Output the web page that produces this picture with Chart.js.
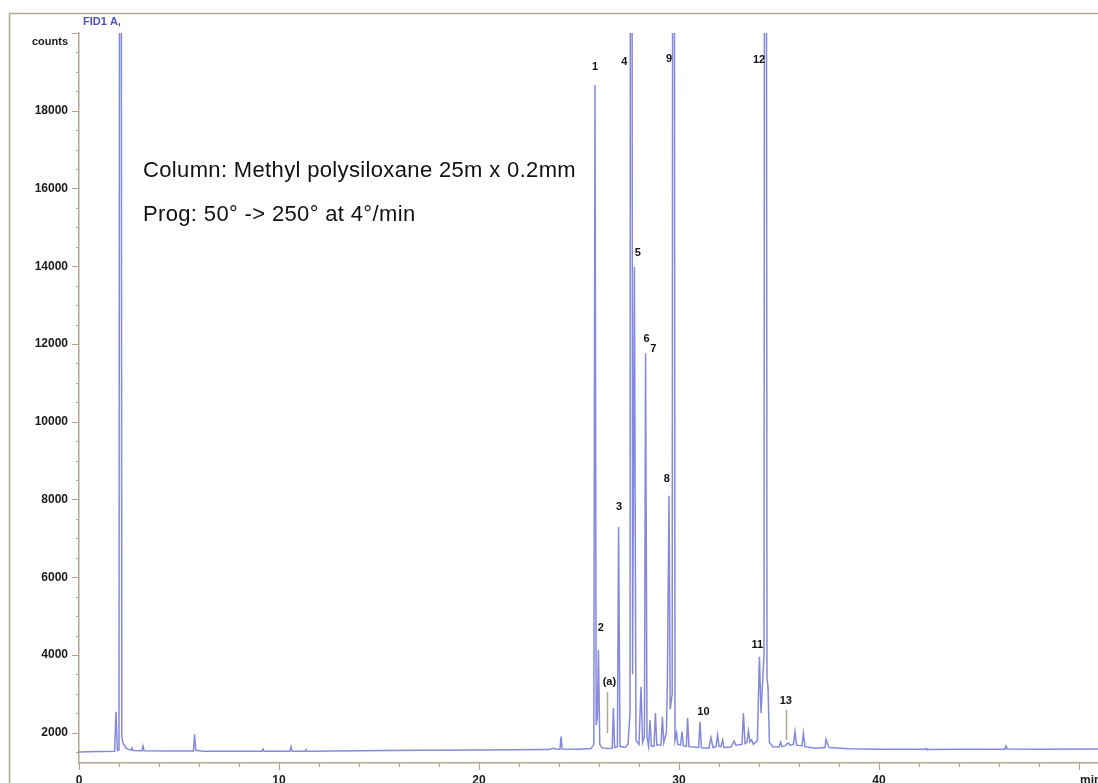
<!DOCTYPE html>
<html>
<head>
<meta charset="utf-8">
<script src="https://cdn.jsdelivr.net/npm/chart.js@4.4.1/dist/chart.umd.min.js"></script>
<style>
  html, body { margin: 0; padding: 0; background: #ffffff; }
  #wrap { width: 1098px; height: 783px; position: relative; overflow: hidden; }
  canvas { display: block; }
</style>
</head>
<body>
<div id="wrap"><canvas id="chart" width="1098" height="783"></canvas></div>
<script>
// ---- Data (retention time in min, detector counts) ----
const retentionTime = [
  0, 1.0, 1.78, 1.85, 1.92, 2.0, 2.07, 2.14, 2.2, 2.35, 2.6, 2.65, 2.7, 3.15, 3.2, 3.25,
  4.5, 5.72, 5.78, 5.84, 6.2, 8.0, 9.15, 9.2, 9.25, 10.55, 10.6, 10.66, 11.3, 11.35, 11.4,
  14, 17, 20, 23.5, 23.7, 23.85, 24.05, 24.1, 24.16, 25.0, 25.6, 25.74, 25.8, 25.86, 25.92,
  25.97, 26.04, 26.15, 26.4, 26.66, 26.72, 26.78, 26.92, 26.98, 27.05, 27.3, 27.45, 27.55,
  27.6, 27.68, 27.77, 27.85, 28.0, 28.1, 28.18, 28.27, 28.33, 28.4, 28.48, 28.55, 28.62,
  28.75, 28.82, 28.89, 29.1, 29.17, 29.24, 29.37, 29.42, 29.5, 29.56, 29.66, 29.72, 29.8,
  29.88, 29.94, 30.08, 30.15, 30.22, 30.37, 30.43, 30.5, 30.98, 31.05, 31.12, 31.5, 31.6,
  31.7, 31.85, 31.93, 32.0, 32.1, 32.18, 32.25, 32.6, 32.75, 32.85, 33.15, 33.22, 33.3,
  33.4, 33.47, 33.55, 33.63, 33.72, 33.92, 34.02, 34.1, 34.25, 34.32, 34.4, 34.45, 34.52,
  34.7, 35.0, 35.08, 35.15, 35.3, 35.47, 35.55, 35.72, 35.8, 35.88, 36.15, 36.22, 36.3,
  36.8, 37.3, 37.35, 37.5, 38.5, 40, 42.3, 42.35, 42.4, 44, 46.3, 46.35, 46.42, 48, 50.95
];
const detectorCounts = [
  1500, 1515, 1520, 2540, 1540, 1560, 60000, 1900, 1735, 1600, 1545, 1606, 1540, 1535, 1657, 1535,
  1530, 1530, 1960, 1545, 1525, 1520, 1525, 1580, 1525, 1525, 1640, 1525, 1525, 1565, 1525,
  1535, 1545, 1555, 1565, 1600, 1580, 1575, 1897, 1580, 1575, 1590, 1700, 18663, 2200, 2400,
  4127, 1700, 1610, 1590, 1600, 2635, 1620, 1640, 7292, 1650, 1620, 1700, 2500,
  60000, 3500, 13988, 1800, 1700, 3183, 1750, 1900, 11760, 1900, 1650, 2326, 1650,
  1650, 2506, 1680, 1680, 2411, 1750, 2000, 3355, 8097, 2600, 3000, 60000, 1800,
  1992, 1700, 1680, 2030, 1660, 1650, 2378, 1640, 1620, 2283, 1610, 1600, 1871,
  1620, 1640, 1940, 1650, 1640, 1812, 1620, 1630, 1786, 1680, 1700, 2499, 1720,
  1760, 2051, 1760, 1812, 1700, 1800, 3955, 2500, 4000, 60000, 3400, 3180, 1750,
  1640, 1630, 1760, 1640, 1660, 1740, 1680, 1700, 2025, 1680, 1660, 1984, 1640,
  1600, 1620, 1830, 1620, 1585, 1575, 1575, 1598, 1570, 1575, 1575, 1657, 1580, 1575, 1580
];

// Axis ranges and tick spacing
const xRange = [0, 50.95];
const yRange = [1220, 20000];
const xLabelTicks = [0, 10, 20, 30, 40];
const yLabelTicks = [2000, 4000, 6000, 8000, 10000, 12000, 14000, 16000, 18000];

// Peak annotations: label text, anchor time, anchor counts
const peakLabelText  = ['1', '2', '3', '4', '5', '6', '7', '8', '9', '10', '11', '12', '13', '(a)'];
const peakLabelTime  = [25.8, 26.09, 27.0, 27.27, 27.94, 28.38, 28.72, 29.39, 29.5, 31.22, 33.92, 34.0, 35.34, 26.52];
const peakLabelCount = [19120, 4685, 7814, 19262, 14348, 12128, 11863, 8519, 19332, 2540, 4256, 19306, 2815, 3312];

// Marker lines (time, from counts, to counts)
const markerTime = [26.38, 35.33];
const markerFrom = [3047, 2584];
const markerTo   = [1992, 1812];

const noteLines = ['Column: Methyl polysiloxane 25m x 0.2mm', 'Prog: 50° -> 250° at 4°/min'];

const AXIS_COLOR = '#b2a88e';
const TRACE_COLOR = 'rgba(112,116,214,0.85)';
const FONT = '"Liberation Sans", Arial, Helvetica, sans-serif';

const points = retentionTime.map((t, i) => ({ x: t, y: detectorCounts[i] }));

const decorPlugin = {
  id: 'decor',
  beforeDraw(chart) {
    const ctx = chart.ctx;
    ctx.save();
    ctx.strokeStyle = AXIS_COLOR;
    ctx.lineWidth = 1.5;
    ctx.beginPath();
    ctx.moveTo(9.5, 783);
    ctx.lineTo(9.5, 13.5);
    ctx.lineTo(1098, 13.5);
    ctx.stroke();
    ctx.restore();
  },
  afterDraw(chart) {
    const ctx = chart.ctx;
    const xs = chart.scales.x, ys = chart.scales.y;
    const ca = chart.chartArea;
    ctx.save();
    // tick marks
    ctx.strokeStyle = AXIS_COLOR;
    ctx.lineWidth = 1.2;
    ctx.beginPath();
    for (let t = 0; t <= 50; t += 2) {
      const px = Math.round(xs.getPixelForValue(t)) + 0.5;
      const len = (t % 10 === 0) ? 7 : 4;
      ctx.moveTo(px, ca.bottom);
      ctx.lineTo(px, ca.bottom + len);
    }
    for (let v = 1500; v <= 20000; v += 500) {
      const py = Math.round(ys.getPixelForValue(v)) + 0.5;
      const len = (v % 2000 === 0) ? 7 : 3;
      ctx.moveTo(ca.left, py);
      ctx.lineTo(ca.left - len, py);
    }
    ctx.stroke();

    // axis titles
    ctx.fillStyle = '#1a1a1a';
    ctx.font = 'bold 11px ' + FONT;
    ctx.textAlign = 'right';
    ctx.textBaseline = 'middle';
    ctx.fillText('counts', ca.left - 11, ys.getPixelForValue(20000) + 9);
    ctx.font = 'bold 12px ' + FONT;
    ctx.textAlign = 'left';
    ctx.textBaseline = 'top';
    ctx.fillText('min', xs.getPixelForValue(50) + 1, ca.bottom + 12);

    // detector title
    ctx.fillStyle = '#4b50bd';
    ctx.font = 'bold 11px ' + FONT;
    ctx.textAlign = 'left';
    ctx.textBaseline = 'middle';
    ctx.fillText('FID1 A,', 83, 22);

    // marker lines
    ctx.strokeStyle = AXIS_COLOR;
    ctx.lineWidth = 1.5;
    ctx.beginPath();
    markerTime.forEach((t, i) => {
      const px = Math.round(xs.getPixelForValue(t)) + 0.5;
      ctx.moveTo(px, ys.getPixelForValue(markerFrom[i]));
      ctx.lineTo(px, ys.getPixelForValue(markerTo[i]));
    });
    ctx.stroke();

    // peak labels
    ctx.fillStyle = '#111';
    ctx.font = 'bold 11px ' + FONT;
    ctx.textAlign = 'center';
    ctx.textBaseline = 'middle';
    peakLabelText.forEach((s, i) => {
      ctx.fillText(s, xs.getPixelForValue(peakLabelTime[i]), ys.getPixelForValue(peakLabelCount[i]));
    });

    // notes
    ctx.font = '22px ' + FONT;
    if ('letterSpacing' in ctx) ctx.letterSpacing = '0.35px';
    ctx.textAlign = 'left';
    ctx.textBaseline = 'alphabetic';
    ctx.fillStyle = '#111';
    ctx.fillText(noteLines[0], 143, 177);
    ctx.fillText(noteLines[1], 143, 221);
    ctx.restore();
  }
};

new Chart(document.getElementById('chart'), {
  type: 'line',
  data: {
    datasets: [{
      data: points,
      borderColor: TRACE_COLOR,
      borderWidth: 1.5,
      pointRadius: 0,
      tension: 0,
      fill: false
    }]
  },
  options: {
    responsive: false,
    animation: false,
    devicePixelRatio: 1,
    parsing: false,
    layout: { padding: { top: 33, right: 0, left: 0, bottom: 0 } },
    plugins: { legend: { display: false }, tooltip: { enabled: false } },
    scales: {
      x: {
        type: 'linear',
        min: xRange[0],
        max: xRange[1],
        grid: { display: false, drawTicks: false },
        border: { display: true, color: AXIS_COLOR, width: 1.5 },
        afterFit(s) { s.height = 20; },
        afterBuildTicks(s) { s.ticks = xLabelTicks.map(v => ({ value: v })); },
        ticks: {
          autoSkip: false,
          maxRotation: 0,
          padding: 10,
          color: '#1a1a1a',
          font: { family: FONT, size: 12, weight: 'bold' },
          callback: (v) => String(v)
        }
      },
      y: {
        type: 'linear',
        min: yRange[0],
        max: yRange[1],
        grid: { display: false, drawTicks: false },
        border: { display: true, color: AXIS_COLOR, width: 1.5 },
        afterFit(s) { s.width = 79; },
        afterBuildTicks(s) { s.ticks = yLabelTicks.map(v => ({ value: v })); },
        ticks: {
          autoSkip: false,
          padding: 11,
          color: '#1a1a1a',
          font: { family: FONT, size: 12, weight: 'bold' },
          callback: (v) => String(v)
        }
      }
    }
  },
  plugins: [decorPlugin]
});
</script>
</body>
</html>
